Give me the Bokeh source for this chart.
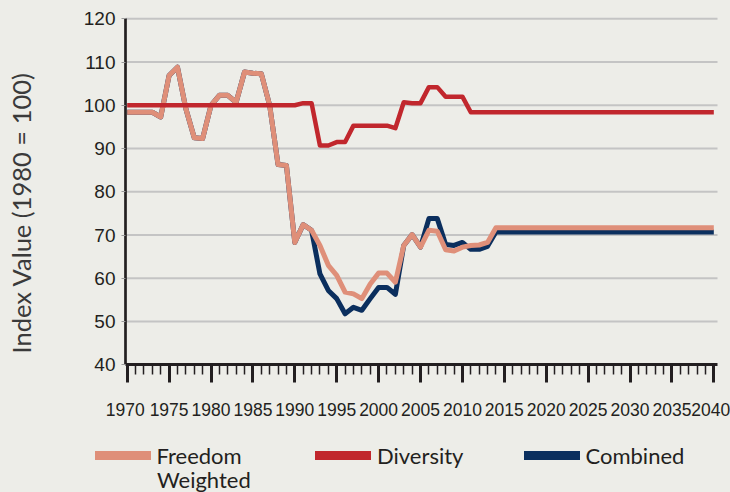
from bokeh.plotting import figure
from bokeh.models import (Range1d, FixedTicker, Label, LabelSet, Legend, LegendItem,
                          ColumnDataSource, GlobalInlineStyleSheet)
from bokeh.core.properties import value
from bokeh.embed import file_html
from bokeh.resources import INLINE
import math

# ---------------- data ----------------
years = list(range(1970, 2041))

freedom_weighted = [
    98.4, 98.4, 98.4, 98.4, 97.3, 106.9, 108.8, 99.2, 92.5, 92.3,      # 1970-1979
    100.0, 102.3, 102.3, 100.7, 107.7, 107.4, 107.3, 100.0, 86.3, 86.1,  # 1980-1989
    68.3, 72.4, 71.1, 67.6, 63.0, 60.7, 56.8, 56.4, 55.3, 58.7,        # 1990-1999
    61.2, 61.2, 59.1, 67.6, 70.1, 67.2, 71.1, 70.9, 66.6, 66.3,        # 2000-2009
    67.2, 67.6, 67.7, 68.3, 71.7, 71.7, 71.7, 71.7, 71.7, 71.7,        # 2010-2019
    71.7, 71.7, 71.7, 71.7, 71.7, 71.7, 71.7, 71.7, 71.7, 71.7,        # 2020-2029
    71.7, 71.7, 71.7, 71.7, 71.7, 71.7, 71.7, 71.7, 71.7, 71.7,        # 2030-2039
    71.7,                                                              # 2040
]

diversity = [
    100.0, 100.0, 100.0, 100.0, 100.0, 100.0, 100.0, 100.0, 100.0, 100.0,  # 1970-1979
    100.0, 100.0, 100.0, 100.0, 100.0, 100.0, 100.0, 100.0, 100.0, 100.0,  # 1980-1989
    100.0, 100.5, 100.5, 90.7, 90.7, 91.5, 91.5, 95.3, 95.3, 95.3,         # 1990-1999
    95.3, 95.3, 94.7, 100.7, 100.5, 100.5, 104.2, 104.2, 102.0, 102.0,     # 2000-2009
    102.0, 98.4, 98.4, 98.4, 98.4, 98.4, 98.4, 98.4, 98.4, 98.4,           # 2010-2019
    98.4, 98.4, 98.4, 98.4, 98.4, 98.4, 98.4, 98.4, 98.4, 98.4,            # 2020-2029
    98.4, 98.4, 98.4, 98.4, 98.4, 98.4, 98.4, 98.4, 98.4, 98.4,            # 2030-2039
    98.4,                                                                  # 2040
]

combined = [
    98.4, 98.4, 98.4, 98.4, 97.3, 106.9, 108.8, 99.2, 92.5, 92.3,      # 1970-1979
    100.0, 102.3, 102.3, 100.7, 107.7, 107.4, 107.3, 100.0, 86.3, 86.1,  # 1980-1989
    68.3, 72.4, 71.1, 61.0, 57.2, 55.3, 51.8, 53.3, 52.6, 55.3,        # 1990-1999
    57.9, 57.9, 56.3, 67.6, 70.1, 67.2, 73.8, 73.8, 67.8, 67.6,        # 2000-2009
    68.3, 66.7, 66.7, 67.4, 70.7, 70.7, 70.7, 70.7, 70.7, 70.7,        # 2010-2019
    70.7, 70.7, 70.7, 70.7, 70.7, 70.7, 70.7, 70.7, 70.7, 70.7,        # 2020-2029
    70.7, 70.7, 70.7, 70.7, 70.7, 70.7, 70.7, 70.7, 70.7, 70.7,        # 2030-2039
    70.7,                                                              # 2040
]

y_ticks = [40, 50, 60, 70, 80, 90, 100, 110, 120]
grid_values = [50, 60, 70, 80, 90, 100, 110, 120]
x_major_ticks = [1970, 1975, 1980, 1985, 1990, 1995, 2000, 2005,
                 2010, 2015, 2020, 2025, 2030, 2035, 2040]
x_tick_labels = ["1970", "1975", "1980", "1985", "1990", "1995", "2000", "2005",
                 "2010", "2015", "2020", "2025", "2030", "2035", "2040"]
y_title = "Index Value (1980 = 100)"
series_labels = ["Freedom", "Diversity", "Combined"]
series_label_second_line = "Weighted"

# ---------------- style / layout ----------------
BG = "#EDEDE8"
INK = "#231F20"
C_FREEDOM = "#DF8F79"
C_DIVERSITY = "#C1272D"
C_COMBINED = "#0B2F5E"
NUM_FONT = "Liberation Sans"
SANS = "Lato"

W, H = 730, 492
# plot area (axes box) inside the canvas, in px
AX_L, AX_R, AX_T, AX_B = 125, 717, 18.3, 364.3
X_START, X_END = 1969.797, 2040.44
Y_MIN, Y_MAX = 40, 120
PPX = (AX_R - AX_L) / (X_END - X_START)
PPY = (AX_B - AX_T) / (Y_MAX - Y_MIN)

p = figure(width=W, height=H,
           x_range=Range1d(X_START - AX_L / PPX, X_END + (W - AX_R) / PPX),
           y_range=Range1d(Y_MIN - (H - AX_B) / PPY, Y_MAX + AX_T / PPY),
           output_backend="svg", toolbar_location=None,
           min_border_left=0, min_border_right=0, min_border_top=0, min_border_bottom=0,
           background_fill_color=BG, border_fill_color=BG,
           outline_line_color=None)
p.stylesheets = [GlobalInlineStyleSheet(css="body { background-color: #EDEDE8; }")]
p.grid.visible = False

# horizontal grid lines across the axes box
p.segment(x0=X_START, x1=X_END, y0=grid_values, y1=grid_values,
          line_color="#C4C4C4", line_width=2)

# y axis
p.yaxis.fixed_location = X_START
p.yaxis.bounds = (Y_MIN, Y_MAX)
p.yaxis.ticker = FixedTicker(ticks=y_ticks)
p.yaxis.axis_line_color = INK
p.yaxis.axis_line_width = 2.7
p.yaxis.major_tick_out = 4
p.yaxis.major_tick_in = 0
p.yaxis.major_tick_line_color = "#9A9A9A"
p.yaxis.major_tick_line_width = 1
p.yaxis.minor_tick_line_color = None
p.yaxis.major_label_text_font = NUM_FONT
p.yaxis.major_label_text_font_size = "19px"
p.yaxis.major_label_text_color = INK
p.yaxis.major_label_standoff = 6

# x axis (ticks; labels drawn with a LabelSet)
p.xaxis.fixed_location = Y_MIN
p.xaxis.bounds = (X_START, X_END)
p.xaxis.ticker = FixedTicker(ticks=x_major_ticks, minor_ticks=years)
p.xaxis.axis_line_color = INK
p.xaxis.axis_line_width = 3
p.xaxis.major_tick_out = 18
p.xaxis.major_tick_in = 0
p.xaxis.major_tick_line_width = 3
p.xaxis.major_tick_line_color = INK
p.xaxis.minor_tick_out = 10
p.xaxis.minor_tick_in = 0
p.xaxis.minor_tick_line_width = 1.5
p.xaxis.minor_tick_line_color = INK
p.xaxis.major_label_overrides = {t: "" for t in x_major_ticks}

# series
p.line(years, combined, line_color=C_COMBINED, line_width=5, line_join="round")
p.line(years, freedom_weighted, line_color=C_FREEDOM, line_width=5, line_join="round")
p.line(years, diversity, line_color=C_DIVERSITY, line_width=4.5, line_join="round")

# x tick labels
LABEL_NUDGE = {1970: -2, 2040: -3}
lbl_src = ColumnDataSource(dict(x=x_major_ticks, text=x_tick_labels,
                                dx=[LABEL_NUDGE.get(t, 0) for t in x_major_ticks]))
p.add_layout(LabelSet(x="x", y=H - 415.5, y_units="screen", text="text", x_offset="dx",
                      source=lbl_src, text_font=value(NUM_FONT), text_font_size=value("17.5px"),
                      text_color=INK, text_align="center", text_baseline="alphabetic"))

# y axis title
p.add_layout(Label(x=20, y=H - 353, x_units="screen", y_units="screen", text=y_title,
                   angle=math.pi / 2, text_font=SANS, text_font_size="25.5px",
                   text_color="#3A3A3A", text_align="left", text_baseline="middle"))

# legend: thick swatches via proxy renderers that draw nothing in the plot
NAN = float("nan")
swatches = [p.line(x=[NAN], y=[NAN], line_color=c, line_width=9, line_cap="round")
            for c in (C_FREEDOM, C_DIVERSITY, C_COMBINED)]
LEG_X = [94.5, 315.0, 523.5]
SW_W = 56
SW_GAP = 6
ITEM_H = 30
LEG_CENTER = 455
for lab, rend, lx in zip(series_labels, swatches, LEG_X):
    p.add_layout(Legend(items=[LegendItem(label=lab, renderers=[rend])],
                        location=(lx, H - LEG_CENTER - ITEM_H / 2),
                        orientation="horizontal", glyph_width=SW_W, glyph_height=ITEM_H,
                        label_height=ITEM_H, label_standoff=SW_GAP, padding=0, margin=0, spacing=0,
                        border_line_color=None, background_fill_alpha=0,
                        label_text_font=SANS, label_text_font_size="22px",
                        label_text_color=INK))
p.add_layout(Label(x=LEG_X[0] + SW_W + SW_GAP, y=H - 479, x_units="screen", y_units="screen",
                   text=series_label_second_line, text_font=SANS, text_font_size="22px",
                   text_color=INK, text_align="left", text_baseline="middle"))

open("out.html", "w").write(file_html(p, INLINE))
